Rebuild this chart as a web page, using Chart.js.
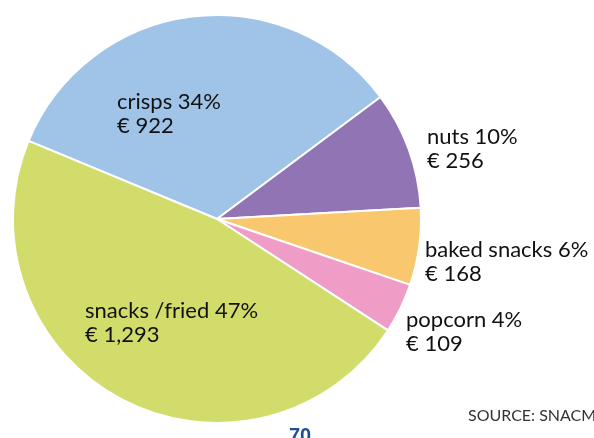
<!DOCTYPE html>
<html>
<head>
<meta charset="utf-8">
<script src="https://cdn.jsdelivr.net/npm/chart.js@4/dist/chart.umd.min.js"></script>
<style>
  html, body { margin: 0; padding: 0; background: #ffffff; overflow: hidden; }
  #wrap { width: 594px; height: 438px; position: relative; }
</style>
</head>
<body>
<div id="wrap"><canvas id="pie" width="594" height="438"></canvas></div>
<script>
// Snack market segments (EUR)
const categories = ['crisps', 'nuts', 'baked snacks', 'popcorn', 'snacks /fried'];
const values = [922, 256, 168, 109, 1293];
const percentLabels = ['34%', '10%', '6%', '4%', '47%'];
const valueLabels = ['€ 922', '€ 256', '€ 168', '€ 109', '€ 1,293'];
const colors = ['#A0C4E8', '#9174B3', '#F9C86E', '#EF9DC6', '#D2DC6A'];

// Where each two-line label is written (left x, first baseline y)
const labelAnchors = [
  [117, 109], [427, 144], [425, 257], [406, 327], [85, 318]
];

const labelPlugin = {
  id: 'sliceLabels',
  afterDraw(chart) {
    const ctx = chart.ctx;
    ctx.save();
    ctx.fillStyle = '#111111';
    ctx.font = '22px Lato, "Liberation Sans", Arial, sans-serif';
    ctx.textAlign = 'left';
    ctx.textBaseline = 'alphabetic';
    categories.forEach((c, i) => {
      const [x, y] = labelAnchors[i];
      ctx.fillText(c + ' ' + percentLabels[i], x, y);
      ctx.fillText(valueLabels[i], x, y + 24);
    });
    // page footer
    ctx.fillStyle = '#333333';
    ctx.font = '16px Lato, "Liberation Sans", Arial, sans-serif';
    ctx.fillText('SOURCE: SNACMA', 468, 421);
    ctx.fillStyle = '#1F4E99';
    ctx.font = 'bold 20px "Liberation Sans", Arial, sans-serif';
    ctx.fillText('70', 289, 442);
    ctx.restore();
  }
};

new Chart(document.getElementById('pie'), {
  type: 'pie',
  data: {
    labels: categories,
    datasets: [{
      data: values,
      backgroundColor: colors,
      borderColor: '#ffffff',
      borderWidth: 2
    }]
  },
  options: {
    responsive: false,
    animation: false,
    rotation: -67.5,
    layout: { padding: { left: 12, top: 14, right: 172, bottom: 14 } },
    plugins: {
      legend: { display: false },
      tooltip: { enabled: false }
    }
  },
  plugins: [labelPlugin]
});
</script>
</body>
</html>
